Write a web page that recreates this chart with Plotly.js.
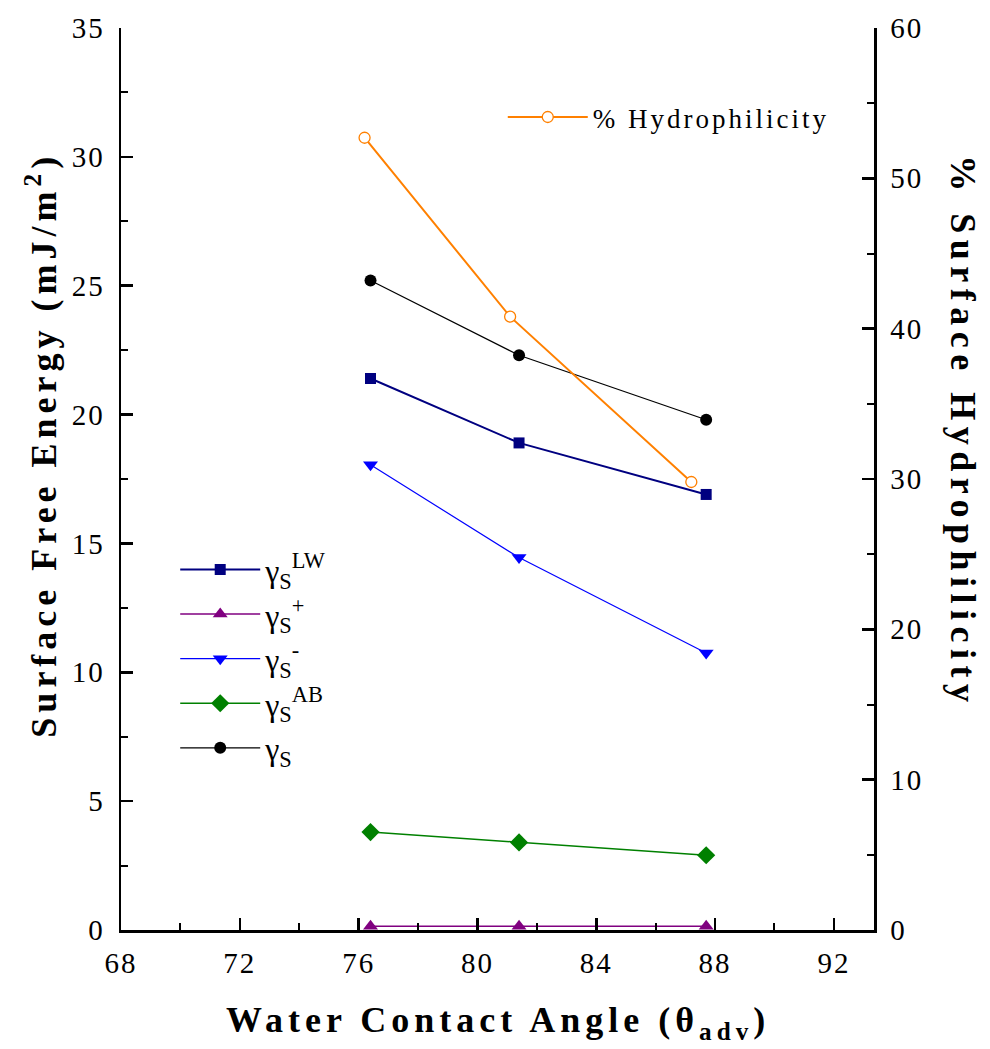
<!DOCTYPE html>
<html>
<head>
<meta charset="utf-8">
<script src="https://cdn.plot.ly/plotly-3.0.1.min.js"></script>
<style>html,body{margin:0;padding:0;background:#fff;}</style>
</head>
<body>
<div id="chart" style="width:990px;height:1049px;"></div>
<script>
// Water contact angle (x) for surface energy components
const angle = [76.4, 81.4, 87.7];
// Water contact angle (x) for hydrophilicity
const angleHydro = [76.2, 81.1, 87.2];
// Surface free energy components (mJ/m^2)
const gammaLW = [21.4, 18.9, 16.9];
const gammaPlus = [0.15, 0.15, 0.15];
const gammaMinus = [18.05, 14.45, 10.75];
const gammaAB = [3.8, 3.4, 2.9];
const gammaS = [25.2, 22.3, 19.8];
// % Surface hydrophilicity
const hydrophilicity = [52.7, 40.8, 29.8];

// Tick labels
const xTicks = [68, 72, 76, 80, 84, 88, 92];
const yTicks = [0, 5, 10, 15, 20, 25, 30, 35];
const y2Ticks = [0, 10, 20, 30, 40, 50, 60];

const names = [
  'γ<sub>S</sub><sup>LW</sup>',
  'γ<sub>S</sub><sup>+</sup>',
  'γ<sub>S</sub><sup>-</sup>',
  'γ<sub>S</sub><sup>AB</sup>',
  'γ<sub>S</sub>'
];

const serif = 'Liberation Serif';
const spaced = v => '<span style="letter-spacing:2px">' + v + '</span>';

const traces = [
  {x: angle, y: gammaLW, name: names[0], mode: 'lines+markers',
   line: {color: '#000080', width: 2}, marker: {symbol: 'square', size: 11, color: '#000080'}},
  {x: angle, y: gammaPlus, name: names[1], mode: 'lines+markers',
   line: {color: '#800080', width: 1.5}, marker: {symbol: 'triangle-up', size: 13, color: '#800080'}},
  {x: angle, y: gammaMinus, name: names[2], mode: 'lines+markers',
   line: {color: '#0000FF', width: 1.2}, marker: {symbol: 'triangle-down', size: 13, color: '#0000FF'}},
  {x: angle, y: gammaAB, name: names[3], mode: 'lines+markers',
   line: {color: '#008000', width: 1.5}, marker: {symbol: 'diamond', size: 14, color: '#008000'}},
  {x: angle, y: gammaS, name: names[4], mode: 'lines+markers',
   line: {color: '#000000', width: 1.2}, marker: {symbol: 'circle', size: 12, color: '#000000'}},
  {x: angleHydro, y: hydrophilicity, name: '<span style="letter-spacing:3px">% Hydrophilicity</span>', mode: 'lines+markers',
   yaxis: 'y2', legend: 'legend2',
   line: {color: '#FF8000', width: 2}, marker: {symbol: 'circle', size: 11, color: '#FFFFFF', line: {color: '#FF8000', width: 1.3}}}
];

function axisCommon(ticks) {
  return {
    showgrid: false, zeroline: false, showline: true, linecolor: '#000', linewidth: 2.5,
    ticks: 'inside', ticklen: 12, tickwidth: 2.5, tickcolor: '#000',
    tickmode: 'array', tickvals: ticks, ticktext: ticks.map(spaced),
    tickfont: {family: serif, size: 29, color: '#000'}
  };
}

const layout = {
  width: 990, height: 1049,
  margin: {l: 121, r: 116, t: 28, b: 119},
  paper_bgcolor: '#fff', plot_bgcolor: '#fff',
  font: {family: serif, size: 26, color: '#000'},
  showlegend: true,
  xaxis: Object.assign(axisCommon(xTicks), {
    range: [68, 93.35], ticklabelstandoff: 6,
    minor: {tickvals: [70, 74, 78, 82, 86, 90], ticklen: 7, tickwidth: 2, ticks: 'inside', tickcolor: '#000'}
  }),
  yaxis: Object.assign(axisCommon(yTicks), {
    range: [0, 35], ticklabelstandoff: 8,
    minor: {dtick: 2.5, ticklen: 7, tickwidth: 2, ticks: 'inside', tickcolor: '#000'}
  }),
  yaxis2: Object.assign(axisCommon(y2Ticks), {
    overlaying: 'y', side: 'right', range: [0, 60], ticklabelstandoff: 8,
    minor: {dtick: 5, ticklen: 7, tickwidth: 2, ticks: 'inside', tickcolor: '#000'}
  }),
  legend: {
    x: 0.072, y: 0.43, xanchor: 'left', yanchor: 'top',
    bgcolor: 'rgba(0,0,0,0)', font: {family: serif, size: 32, color: '#000'},
    itemwidth: 80
  },
  legend2: {
    x: 0.507, y: 0.928, xanchor: 'left', yanchor: 'top',
    bgcolor: 'rgba(0,0,0,0)', font: {family: serif, size: 27, color: '#000'},
    itemwidth: 80
  },
  annotations: [
    {xref: 'paper', yref: 'paper', x: 0.5, y: -0.102, xanchor: 'center', yanchor: 'middle', showarrow: false,
     text: '<b><span style="letter-spacing:5px">Water Contact Angle (θ<sub>adv</sub>)</span></b>',
     font: {family: serif, size: 36, color: '#000'}},
    {xref: 'paper', yref: 'paper', x: -0.105, y: 0.538, xanchor: 'center', yanchor: 'middle', showarrow: false,
     textangle: -90,
     text: '<b><span style="letter-spacing:5px">Surface Free Energy (mJ/m<sup>2</sup>)</span></b>',
     font: {family: serif, size: 36, color: '#000'}},
    {xref: 'paper', yref: 'paper', x: 1.118, y: 0.552, xanchor: 'center', yanchor: 'middle', showarrow: false,
     textangle: 90,
     text: '<b><span style="letter-spacing:6.5px">% Surface Hydrophilicity</span></b>',
     font: {family: serif, size: 36, color: '#000'}}
  ]
};

Plotly.newPlot('chart', traces, layout, {displayModeBar: false, staticPlot: true});
</script>
</body>
</html>
